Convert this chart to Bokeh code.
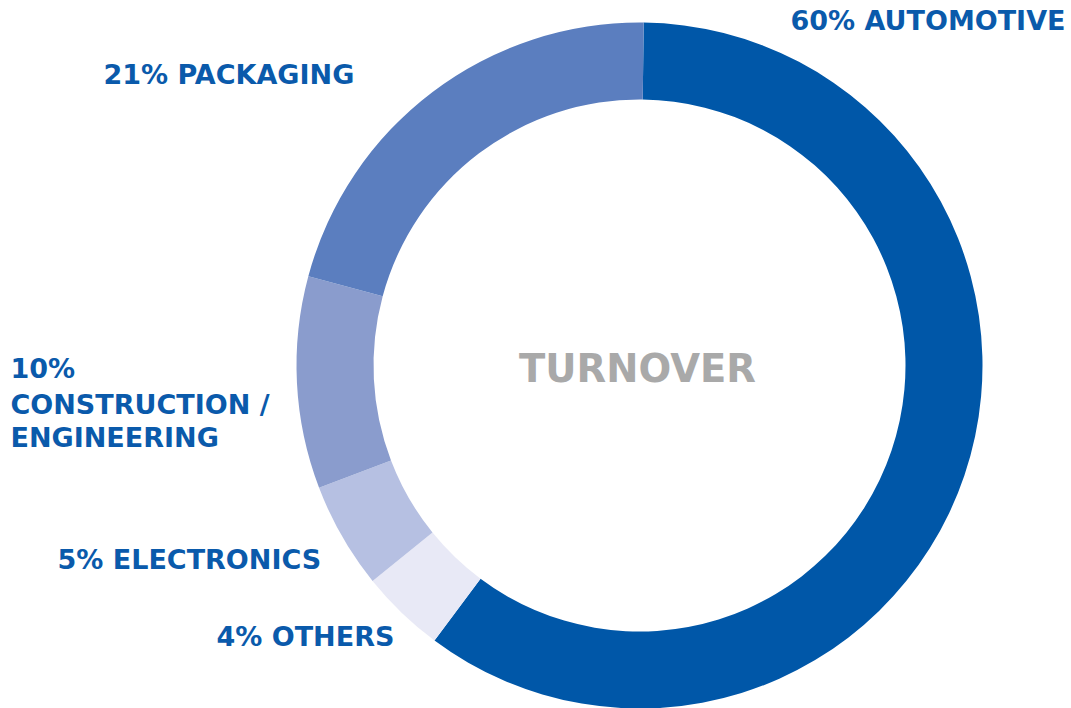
import math
from bokeh.plotting import figure
from bokeh.models import ColumnDataSource, Range1d
from bokeh.core.properties import value
from bokeh.embed import file_html
from bokeh.resources import INLINE

categories = ["AUTOMOTIVE", "OTHERS", "ELECTRONICS", "CONSTRUCTION / ENGINEERING", "PACKAGING"]
shares = [60, 4, 5, 10, 21]
colors = ["#0057A8", "#E8E9F6", "#B6C0E2", "#8A9CCD", "#5B7EBF"]

W, H = 1071, 708
cx, cy = 639, H - 365
r_in, r_out = 266, 343
rot = math.radians(-0.7)

total = sum(shares)
starts, ends = [], []
cum = 0
for s in shares:
    a0 = math.pi / 2 + rot - 2 * math.pi * (cum + s) / total
    a1 = math.pi / 2 + rot - 2 * math.pi * cum / total
    starts.append(a0)
    ends.append(a1)
    cum += s

src = ColumnDataSource(dict(start=starts, end=ends, color=colors, cat=categories))

p = figure(width=W, height=H, output_backend="svg", toolbar_location=None,
           x_range=Range1d(0, W), y_range=Range1d(0, H), min_border=0)
p.axis.visible = False
p.grid.visible = False
p.outline_line_color = None
p.background_fill_color = "white"

p.annular_wedge(x=cx, y=cy, inner_radius=r_in, outer_radius=r_out,
                start_angle="start", end_angle="end", color="color",
                line_color=None, source=src)

blue = "#0A5AAB"
font = value("DejaVu Sans")
fs = 27
# (text, left x, cap-middle y in pixels)
label_lines = [
    (f"{shares[0]}% {categories[0]}", 790, 20),
    (f"{shares[4]}% {categories[4]}", 103, 74),
    (f"{shares[3]}%", 10, 368),
    ("CONSTRUCTION /", 10, 404),
    ("ENGINEERING", 10, 437),
    (f"{shares[2]}% {categories[2]}", 57, 559),
    (f"{shares[1]}% {categories[1]}", 216, 636),
]
lsrc = ColumnDataSource(dict(
    x=[l[1] for l in label_lines],
    y=[H - l[2] for l in label_lines],
    t=[l[0] for l in label_lines],
))
p.text(x="x", y="y", text="t", source=lsrc, text_font=font, text_font_style="bold",
       text_font_size=f"{fs}px", text_color=blue, text_baseline="middle", text_align="left")

p.text(x=[637], y=[H - 368], text=["TURNOVER"], text_font=font, text_font_style="bold",
       text_font_size="38.5px", text_color="#A9A9A9", text_baseline="middle", text_align="center")

open("out.html", "w").write(file_html(p, INLINE))
